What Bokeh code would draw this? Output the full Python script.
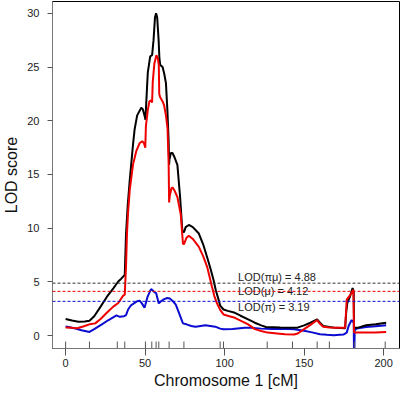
from bokeh.plotting import figure
from bokeh.models import FixedTicker, Span
from bokeh.core.properties import value
from bokeh.embed import file_html
from bokeh.resources import INLINE

# LOD(pi-mu) curve (black)
pos_pm = [0, 4, 8, 12, 15, 18, 22, 25.9, 30, 33.1, 35, 37.2, 38.0, 39.0, 40.3, 42.4, 43.4, 45, 47.6, 48.5,
          49.6, 50.2, 51.0, 51.7, 53.2, 54.4, 55.3, 56.2, 56.9, 57.6, 58.5, 59.0, 59.5, 61, 62, 63.1, 64.0,
          64.8, 65.1, 65.3, 66.2, 67.2, 68.5, 70.3, 72, 73.4, 74.4, 75.5, 77.5, 80, 83.8, 86.5, 89, 91, 93,
          94.5, 96.2, 97.2, 99.3, 102, 106.5, 110, 114.8, 119, 123, 126, 135, 145.8, 150, 154, 158.2, 160,
          162, 166, 170, 175.8, 176.5, 177.2, 178.9, 180.5, 181.2, 181.4, 184, 189, 195, 201.6]
lod_pm = [1.55, 1.4, 1.3, 1.32, 1.38, 1.8, 2.7, 3.6, 4.4, 5.04, 5.3, 5.65, 9.5, 12.0, 14.4, 17.8, 19.2, 20.5,
          21.2, 21.1, 20.5, 20.1, 22.5, 24.5, 26.0, 26.1, 27.5, 29.6, 30.0, 29.6, 27.5, 25.8, 25.2, 25.0,
          24.4, 23.5, 21.0, 18.1, 15.9, 16.4, 17.0, 17.0, 16.6, 15.9, 12.9, 9.8, 9.6, 10.1, 10.3, 10.1, 9.5,
          8.5, 7.3, 6.3, 5.2, 4.2, 3.35, 2.8, 2.43, 2.3, 2.12, 1.85, 1.51, 1.2, 0.95, 0.8, 0.76, 0.74, 0.95,
          1.2, 1.5, 1.2, 0.9, 0.8, 0.72, 0.68, 2.2, 3.04, 3.66, 4.42, 4.1, 0.74, 0.74, 0.96, 1.05, 1.2]

# LOD(mu) curve (red)
pos_m = [0, 4, 7.3, 11, 15, 18.6, 22, 25.9, 30, 33.1, 36.2, 37.2, 38.0, 38.6, 39.3, 40.3, 41.4, 42.5, 44.5,
         46.5, 48.2, 49.3, 50.1, 50.5, 51.7, 52.7, 53.8, 54.4, 54.8, 55.8, 57.1, 58.0, 58.6, 58.9, 59.4, 61,
         62, 63.1, 64.1, 64.8, 65.1, 65.5, 66.5, 67.2, 68.5, 70.3, 72.4, 73.8, 74.4, 76, 77.5, 80, 83.8, 86.5,
         89, 90.5, 92, 93.5, 95.1, 97.2, 99.3, 103, 106.5, 110, 114.8, 119, 123, 127, 133, 138, 143.7, 146,
         150, 154, 158.2, 160, 162, 166, 170, 175.8, 176.5, 176.8, 179.9, 181.0, 181.4, 185, 190, 195, 201.6]
lod_m = [0.75, 0.72, 0.68, 0.85, 1.05, 1.14, 1.55, 2.12, 2.7, 3.04, 3.72, 3.81, 6.5, 9.5, 11.5, 13.5, 14.8,
         16.0, 17.2, 17.9, 18.1, 17.9, 17.5, 19.5, 21.0, 21.8, 21.9, 21.7, 23.6, 25.3, 26.1, 25.8, 25.2, 22.5,
         22.2, 21.8, 21.4, 20.5, 19.3, 16.0, 12.4, 13.0, 13.7, 13.8, 13.5, 12.9, 11.3, 8.56, 8.5, 9.1, 9.3, 9.0,
         8.26, 7.4, 6.4, 5.5, 4.58, 3.7, 3.04, 2.4, 1.97, 1.8, 1.66, 1.4, 1.05, 0.6, 0.43, 0.28, 0.2, 0.12, 0.1,
         0.2, 0.6, 1.0, 1.45, 1.1, 0.83, 0.76, 0.74, 0.74, 2.5, 3.35, 3.96, 4.27, 0.28, 0.28, 0.3, 0.3, 0.34]

# LOD(pi) curve (blue)
pos_p = [0, 5, 10, 15, 18, 22.8, 27, 32, 34, 36.8, 38, 39.3, 41, 43.4, 45, 46.5, 48, 49.6, 50.2, 51.5, 53,
         53.8, 55.5, 56.9, 58.6, 60, 62, 64, 65.5, 67.5, 69.3, 71.3, 73.8, 76, 79, 81.7, 85, 87.9, 91, 94.1,
         97.2, 99.3, 105, 112.7, 118, 123, 130, 137, 143.7, 150, 155, 160, 164.4, 168.5, 174.7, 176.8, 178,
         179.9, 181.2, 181.5, 181.8, 183, 189, 195, 201.6]
lod_p = [0.85, 0.7, 0.5, 0.34, 0.6, 1.05, 1.45, 1.88, 1.75, 1.81, 1.9, 2.43, 2.8, 3.04, 3.2, 3.25, 3.0, 2.6,
         2.9, 3.6, 4.1, 4.33, 4.1, 3.96, 3.0, 3.2, 3.4, 3.5, 3.45, 3.2, 2.89, 2.12, 1.14, 1.05, 0.9, 0.83, 0.9,
         0.96, 0.9, 0.83, 0.65, 0.59, 0.62, 0.74, 0.72, 0.65, 0.62, 0.63, 0.6, 0.45, 0.3, 0.13, 0.08, 0.04,
         0.1, 0.28, 0.9, 1.45, 1.2, -3.0, 0.5, 0.65, 0.8, 0.88, 0.96]

thresholds = [4.88, 4.12, 3.19]
threshold_labels = ["LOD(\u03c0\u03bc) = 4.88", "LOD(\u03bc) = 4.12", "LOD(\u03c0) = 3.19"]
label_x = [108.5, 108.5, 108.5]
label_y = [5.45, 4.15, 2.65]

markers = [0, 15, 32.5, 37.2, 50.2, 54.2, 56.9, 58.6, 65.1, 74.4, 97.2, 99.3, 126.8, 142.7, 158.2,
           165.9, 181.6, 201]

x_ticks = [0, 50, 100, 150, 200]
y_ticks = [0, 5, 10, 15, 20, 25, 30]

X0, X1 = -8.25, 210
Y0, Y1 = -1.2, 31.1
FONT = "Liberation Sans"
BLACK, RED, BLUE = "#000000", "#ee0000", "#0a0ad0"

p = figure(width=400, height=391, output_backend="svg", toolbar_location=None,
           x_range=(X0, X1), y_range=(Y0, Y1),
           min_border_left=47, min_border_right=1, min_border_top=1, min_border_bottom=40)
p.background_fill_color = "white"
p.border_fill_color = "white"
p.outline_line_color = "#000000"
p.outline_line_width = 1
p.grid.visible = False

for t, c in zip(thresholds, ["#333333", RED, BLUE]):
    p.add_layout(Span(location=t, dimension="width", line_color=c, line_dash="3 2", line_width=1))

p.line(pos_p, lod_p, line_color=BLUE, line_width=2)
p.line(pos_pm, lod_pm, line_color=BLACK, line_width=2)
p.line(pos_m, lod_m, line_color=RED, line_width=2)

rug_len = 0.65
p.segment(x0=markers, y0=[Y0] * len(markers), x1=markers, y1=[Y0 + rug_len] * len(markers),
          line_color="#555555", line_width=1)

p.text(x=label_x, y=label_y, text=threshold_labels, text_font=value(FONT),
       text_font_size=value("11px"), text_baseline="middle", text_align="left", text_color="#222222")

p.xaxis.ticker = FixedTicker(ticks=x_ticks)
p.yaxis.ticker = FixedTicker(ticks=y_ticks)
for ax in (p.xaxis, p.yaxis):
    ax.minor_tick_line_color = None
    ax.major_tick_in = 0
    ax.axis_line_color = "#777777"
    ax.major_tick_line_color = "#555555"
    ax.major_label_text_font = FONT
    ax.major_label_text_font_size = "11px"
    ax.major_label_text_color = "#222222"
    ax.axis_label_text_font = FONT
    ax.axis_label_text_font_size = "16px"
    ax.axis_label_text_font_style = "normal"
    ax.axis_label_text_color = "#111111"

p.xaxis.major_tick_out = 7
p.xaxis.major_label_standoff = 3
p.xaxis.axis_label_standoff = 2
p.xaxis.axis_label = "Chromosome 1 [cM]"

p.yaxis.major_tick_out = 5
p.yaxis.major_label_standoff = 8
p.yaxis.axis_label_standoff = 4
p.yaxis.axis_label = "LOD score"

open("out.html", "w").write(file_html(p, INLINE))
